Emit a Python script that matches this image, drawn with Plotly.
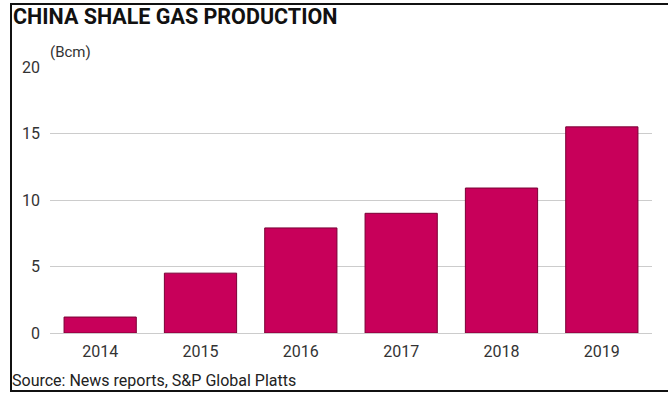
import plotly.graph_objects as go

years = ["2014", "2015", "2016", "2017", "2018", "2019"]
production_bcm = [1.2, 4.5, 7.9, 9.0, 10.9, 15.5]
y_ticks = [0, 5, 10, 15, 20]

title_text = "CHINA SHALE GAS PRODUCTION"
unit_text = "(Bcm)"
source_text = "Source: News reports, S&P Global Platts"

W, H = 668, 396
ml, mr, mt, mb = 50, 16, 67, 63
pw = W - ml - mr
ph = H - mt - mb

def px_x(p):
    return (p - ml) / pw

def px_y(p):
    return (H - mb - p) / ph

fig = go.Figure(
    go.Bar(
        x=years,
        y=production_bcm,
        width=0.72,
        marker=dict(color="#c8005a", line=dict(color="#7a0035", width=1)),
        hoverinfo="x+y",
    )
)

axis_font = dict(family="Roboto, Arial, sans-serif", size=16, color="#333333")

fig.update_layout(
    width=W,
    height=H,
    autosize=False,
    margin=dict(l=ml, r=mr, t=mt, b=mb),
    paper_bgcolor="white",
    plot_bgcolor="white",
    showlegend=False,
    bargap=0.28,
    xaxis=dict(
        type="category",
        tickfont=axis_font,
        showgrid=False,
        showline=False,
        ticks="",
        ticklabelstandoff=7,
    ),
    yaxis=dict(
        range=[0, 20],
        tickvals=y_ticks,
        tickfont=axis_font,
        showgrid=True,
        gridcolor="#cccccc",
        gridwidth=1,
        zeroline=True,
        zerolinecolor="#cccccc",
        zerolinewidth=1,
        showline=False,
        ticks="",
        ticklabelstandoff=9,
    ),
    annotations=[
        dict(
            text="<b>" + title_text + "</b>",
            xref="paper", yref="paper",
            x=px_x(11), y=px_y(16),
            xanchor="left", yanchor="middle",
            showarrow=False,
            font=dict(family="Roboto, Arial, sans-serif", size=21.5, color="#111111"),
        ),
        dict(
            text=unit_text,
            xref="paper", yref="paper",
            x=px_x(48), y=px_y(52),
            xanchor="left", yanchor="middle",
            showarrow=False,
            font=dict(family="Roboto, Arial, sans-serif", size=15, color="#333333"),
        ),
        dict(
            text=source_text,
            xref="paper", yref="paper",
            x=px_x(10), y=px_y(380),
            xanchor="left", yanchor="middle",
            showarrow=False,
            font=dict(family="Roboto, Arial, sans-serif", size=16, color="#222222"),
        ),
    ],
    shapes=[
        dict(type="line", xref="paper", yref="paper",
             x0=px_x(11), x1=px_x(11), y0=px_y(4), y1=px_y(392),
             line=dict(color="#111111", width=2)),
        dict(type="line", xref="paper", yref="paper",
             x0=px_x(10), x1=px_x(668), y0=px_y(4), y1=px_y(4),
             line=dict(color="#111111", width=2)),
        dict(type="line", xref="paper", yref="paper",
             x0=px_x(10), x1=px_x(668), y0=px_y(391), y1=px_y(391),
             line=dict(color="#111111", width=2)),
    ],
)

fig.write_html(
    "out.html",
    config={"displayModeBar": False},
    post_script="document.body.style.margin='0';document.body.style.overflow='hidden';",
)
